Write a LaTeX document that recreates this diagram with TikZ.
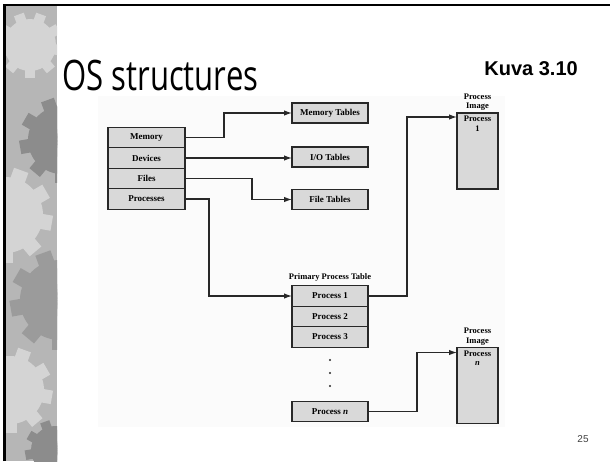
\documentclass[tikz,border=0pt]{standalone}
\usepackage{fontspec}
\setmainfont{Liberation Serif}
\newfontfamily\titlefont[FakeStretch=0.74]{Open Sans}
\newfontfamily\headfont{Liberation Sans}
\usetikzlibrary{arrows.meta,positioning,calc}
\definecolor{OsBox}{RGB}{217,217,217}
\definecolor{OsLine}{RGB}{40,40,40}
\definecolor{OsPaper}{RGB}{251,251,251}
\definecolor{GearBase}{RGB}{182,182,182}
\definecolor{GearDark}{RGB}{140,140,140}
\definecolor{GearLight}{RGB}{212,212,212}
\tikzset{
  tablebox/.style={draw=OsLine, fill=OsBox, line width=1.3pt, inner sep=0pt, outer sep=0pt,
                   font=\bfseries\fontsize{9}{10}\selectfont, minimum width=77pt, minimum height=20.5pt},
  imagebox/.style={draw=OsLine, fill=OsBox, line width=1.3pt, inner sep=0pt, outer sep=0pt,
                   minimum width=41pt, minimum height=76pt},
  caption/.style={font=\bfseries\fontsize{8.5}{9.5}\selectfont, align=center, inner sep=0pt},
  link/.style={-{Latex[length=8pt,width=5.5pt]}, line width=1.2pt, OsLine},
}

% hammasratas sivupalkkiin: x, y, säde, väri
\newcommand{\cogwheel}[4]{%
  \fill[#4] (#1,#2) circle (#3);
  \foreach \a in {0,40,...,320}{
    \fill[#4, rotate around={\a:(#1,#2)}] ($(#1,#2)+(-0.2*#3,0)$) rectangle ($(#1,#2)+(0.2*#3,1.25*#3)$);
  }}

\begin{document}
\begin{tikzpicture}[x=1pt,y=-1pt]
  \useasboundingbox (0,0) rectangle (610,461);
  \fill[white] (0,0) rectangle (610,461);

  % sivupalkki ja reunat
  \begin{scope}
    \clip (5,5) rectangle (57,461);
    \fill[GearBase] (5,5) rectangle (57,461);
    \cogwheel{30}{45}{26}{GearLight}
    \cogwheel{62}{140}{34}{GearDark}
    \cogwheel{5}{215}{38}{GearLight}
    \cogwheel{60}{300}{40}{GearBase!85!black}
    \cogwheel{10}{390}{34}{GearLight}
    \cogwheel{55}{450}{24}{GearDark}
  \end{scope}
  \draw[line width=2.5pt, black] (4.5,461) -- (4.5,5) -- (610,5);

  % kuvan tausta
  \fill[OsPaper] (98,96) rectangle (505,427);

  % otsikot
  \node[anchor=base west, inner sep=0pt] (title) at (62,90)
    {\titlefont\fontsize{42}{42}\selectfont OS structures};
  \node[anchor=base east, inner sep=0pt] (kuva) at (578,75)
    {\headfont\bfseries\fontsize{20}{20}\selectfont Kuva 3.10};
  \node[anchor=base, inner sep=0pt, text=black!75] (page) at (583,442)
    {\headfont\fontsize{10}{10}\selectfont 25};

  % käyttöjärjestelmän taulut
  \node[tablebox] (mem) at (146.5,137.5) {Memory};
  \node[tablebox, below=0pt of mem] (dev) {Devices};
  \node[tablebox, below=0pt of dev] (fil) {Files};
  \node[tablebox, below=0pt of fil] (prc) {Processes};

  \node[tablebox, minimum width=76pt, minimum height=20pt] (memt) at (330,113) {Memory Tables};
  \node[tablebox, minimum width=76pt, minimum height=20pt] (iot) at (330,157) {I/O Tables};
  \node[tablebox, minimum width=76pt, minimum height=20pt] (filt) at (330,199.5) {File Tables};

  % prosessitaulu
  \node[tablebox, minimum width=76pt] (p1) at (330,296) {Process 1};
  \node[tablebox, minimum width=76pt, below=0pt of p1] (p2) {Process 2};
  \node[tablebox, minimum width=76pt, below=0pt of p2] (p3) {Process 3};
  \node[tablebox, minimum width=76pt] (pn) at (330,411.5) {Process \textit{n}};
  \node[caption, above=4pt of p1] (ptab) {Primary Process Table};
  \foreach \d in {360,373,386}
    \fill[OsLine] (330,\d) circle (1.1pt);

  % prosessikuvat
  \node[imagebox] (img1) at (477.5,151) {};
  \node[caption, below=3pt of img1.north] (img1txt) {Process\\1};
  \node[caption, above=2pt of img1] (img1cap) {Process\\Image};
  \node[imagebox] (imgn) at (477.5,385.5) {};
  \node[caption, below=3pt of imgn.north] (imgntxt) {Process\\\textit{n}};
  \node[caption, above=2pt of imgn] (imgncap) {Process\\Image};

  % nuolet
  \draw[link] (mem.east) -- ++(39,0) |- (memt.west);
  \draw[link] (dev.east) -- (dev.east -| iot.west);
  \draw[link] (fil.east) -- ++(67,0) |- (filt.west);
  \draw[link] (prc.east) -- ++(24,0) |- (p1.west);
  \draw[link] (p1.east) -- ++(39,0) |- ([yshift=-4pt]img1.north west);
  \draw[link] (pn.east) -- ++(49,0) |- ([yshift=-5pt]imgn.north west);
\end{tikzpicture}
\end{document}
